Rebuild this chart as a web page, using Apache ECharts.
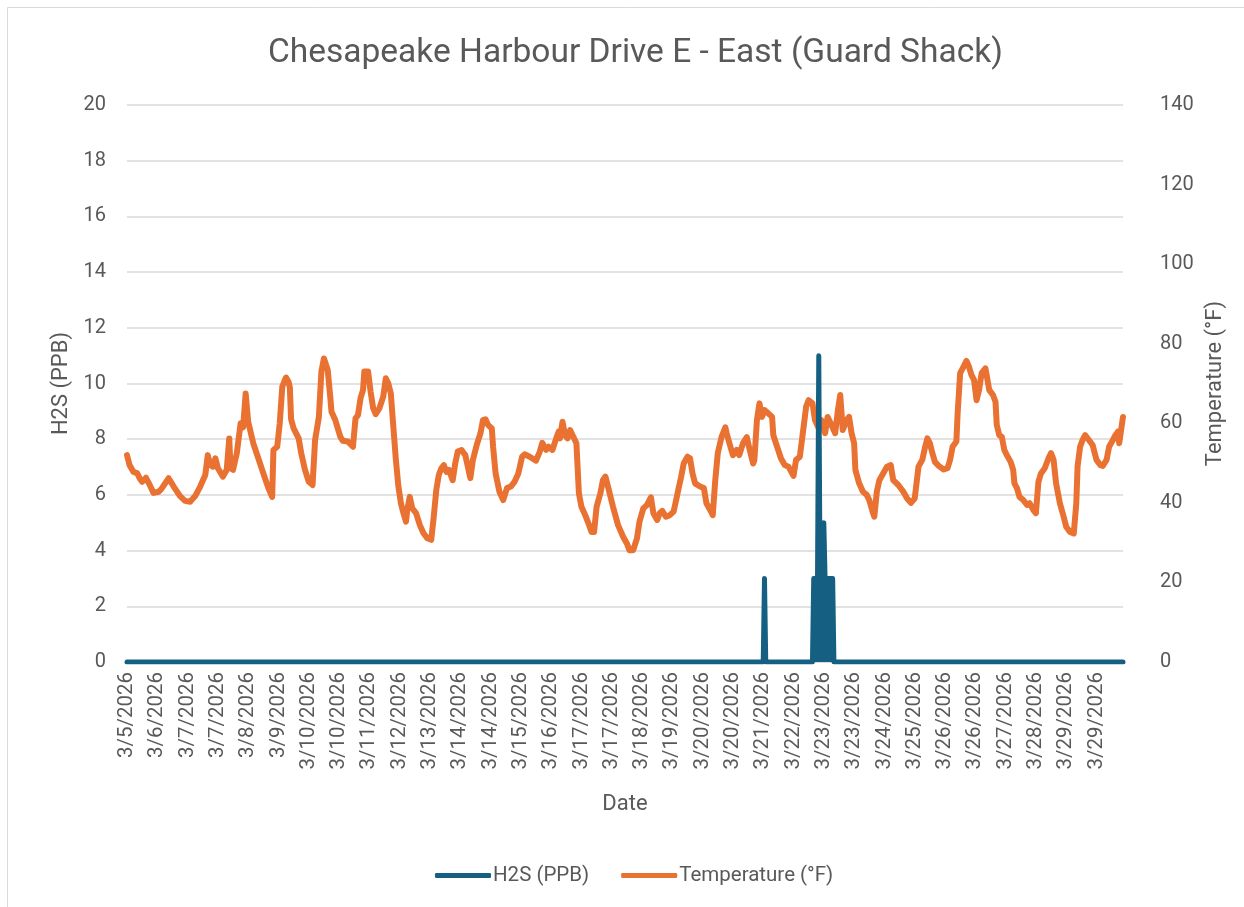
<!DOCTYPE html>
<html>
<head>
<meta charset="utf-8">
<script src="https://cdn.jsdelivr.net/npm/echarts@6/dist/echarts.min.js"></script>
<style>
html,body{margin:0;padding:0;background:#fff;}
#chart{width:1244px;height:907px;}
</style>
</head>
<body>
<div id="chart"></div>
<script>
// ---- data ----
const chartTitle = 'Chesapeake Harbour Drive E - East (Guard Shack)';
const tickLabels = ['3/5/2026','3/6/2026','3/7/2026','3/7/2026','3/8/2026','3/9/2026','3/10/2026','3/10/2026','3/11/2026','3/12/2026','3/13/2026','3/14/2026','3/14/2026','3/15/2026','3/16/2026','3/17/2026','3/17/2026','3/18/2026','3/19/2026','3/20/2026','3/20/2026','3/21/2026','3/22/2026','3/23/2026','3/23/2026','3/24/2026','3/25/2026','3/26/2026','3/26/2026','3/27/2026','3/28/2026','3/29/2026','3/29/2026'];
const stepsPerLabel = 24;
const stepCount = 790;
// [time step, H2S ppb]
const h2sPoints = [[0,0],[504,0],[505,3],[506,0],[543,0],[544,3],[547,3],[548,11],[549,3],[551,3],[552,5],[553,3],[559,3],[560,0],[789,0]];
// [time step, temperature F]
const tempPoints = [[0,52.0],[2,49.5],[5,47.8],[8,47.5],[10,46.2],[12,45.3],[15,46.3],[18,44.5],[21,42.5],[25,42.8],[27,43.4],[33,46.2],[37,44.1],[42,41.7],[46,40.5],[50,40.3],[54,41.7],[58,44.1],[62,47.0],[64,52.0],[66,49.5],[68,49.1],[70,51.2],[72,48.7],[76,46.6],[79,48.3],[81,56.2],[82,48.7],[84,48.3],[87,52.5],[90,60.0],[92,59.0],[94,67.5],[96,60.4],[100,55.0],[104,51.2],[108,47.4],[112,43.7],[115,41.5],[116,53.3],[119,54.1],[121,60.0],[123,69.2],[124,70.0],[126,71.5],[128,70.4],[129,69.0],[130,61.0],[132,58.7],[136,56.2],[138,52.5],[141,48.3],[144,45.3],[147,44.5],[149,55.8],[152,61.6],[154,73.0],[156,76.3],[159,73.4],[161,66.7],[162,62.9],[165,60.8],[169,56.6],[171,55.6],[175,55.4],[179,54.1],[181,61.2],[183,62.1],[185,66.3],[187,68.4],[188,73.0],[191,73.0],[193,67.9],[195,63.8],[197,62.3],[200,63.8],[203,66.7],[205,71.3],[207,70.0],[209,67.5],[211,59.1],[213,50.8],[215,44.1],[217,39.9],[219,37.4],[221,35.3],[222,38.2],[224,41.5],[226,38.6],[229,37.4],[232,34.4],[235,32.3],[238,31.1],[241,30.7],[243,36.5],[245,43.2],[247,47.0],[249,48.7],[251,49.5],[253,47.8],[255,48.3],[258,45.7],[260,49.9],[262,52.9],[265,53.3],[268,52.0],[270,49.1],[272,46.2],[274,50.8],[277,54.5],[280,57.5],[282,60.8],[284,61.0],[286,59.6],[289,58.7],[290,54.1],[292,47.4],[295,42.8],[298,40.7],[299,40.7],[301,43.7],[304,44.1],[307,45.3],[310,47.4],[313,51.6],[315,52.2],[319,51.6],[324,50.6],[327,52.9],[329,55.1],[332,53.3],[334,54.1],[337,53.3],[340,56.2],[342,57.9],[343,56.2],[345,60.4],[347,57.0],[349,56.2],[351,58.3],[353,57.0],[356,55.0],[358,42.4],[360,39.0],[363,36.9],[365,35.3],[368,32.7],[370,32.7],[372,39.0],[375,42.4],[377,45.7],[379,46.6],[381,44.1],[385,39.0],[389,34.4],[393,31.5],[396,29.8],[398,28.1],[401,28.1],[404,31.1],[406,35.3],[409,38.6],[412,39.5],[415,41.4],[417,37.4],[420,35.7],[422,37.4],[424,38.0],[427,36.5],[430,36.9],[433,37.8],[435,40.7],[437,43.7],[439,46.6],[441,49.9],[444,51.6],[446,51.2],[448,47.4],[450,44.9],[454,44.1],[457,43.7],[459,39.9],[462,38.2],[464,36.9],[466,45.7],[468,52.5],[471,56.6],[474,59.0],[475,57.5],[478,54.1],[480,52.0],[483,53.3],[485,52.0],[488,55.0],[491,56.5],[493,53.7],[496,49.9],[497,50.8],[499,60.8],[501,65.0],[503,61.6],[505,63.3],[508,62.5],[511,61.6],[512,57.0],[515,54.1],[518,51.2],[521,49.5],[524,49.1],[528,46.8],[530,50.8],[533,51.6],[535,56.6],[538,64.2],[540,65.8],[543,65.0],[545,60.8],[548,58.7],[550,60.8],[553,57.5],[555,61.6],[558,59.6],[561,57.5],[563,62.9],[565,67.1],[567,58.3],[570,60.8],[572,61.6],[574,57.5],[576,55.0],[577,48.3],[580,44.9],[583,42.8],[586,42.0],[588,40.7],[591,37.4],[592,36.5],[594,42.8],[596,45.7],[599,47.4],[602,49.1],[605,49.5],[607,45.7],[611,44.5],[615,42.8],[618,41.1],[621,40.0],[624,41.1],[627,49.1],[630,50.8],[632,53.7],[634,56.2],[636,55.0],[638,52.5],[640,50.3],[643,49.3],[647,48.4],[650,48.7],[652,50.8],[654,54.1],[657,55.4],[658,62.5],[660,72.6],[662,73.8],[665,75.7],[667,74.2],[669,72.1],[671,70.9],[673,65.8],[675,68.4],[677,72.6],[680,73.8],[681,72.1],[683,68.4],[686,67.1],[688,65.4],[689,59.6],[691,57.0],[693,56.6],[695,53.3],[697,52.0],[700,50.3],[702,48.3],[703,44.9],[705,43.7],[707,41.5],[710,40.7],[713,39.5],[715,39.9],[718,38.2],[720,37.4],[722,45.3],[724,47.4],[727,48.7],[730,51.2],[732,52.5],[734,50.8],[736,44.9],[739,39.9],[742,36.5],[744,34.0],[747,32.7],[750,32.3],[752,39.9],[753,49.1],[755,54.1],[757,55.8],[759,57.0],[762,55.8],[765,54.5],[768,50.8],[771,49.5],[773,49.3],[776,50.8],[778,54.1],[781,55.8],[783,57.0],[785,57.9],[786,55.0],[789,61.6]];

// ---- chart ----
const categories = Array.from({length: stepCount}, (_, i) => String(i));
const txt = '#595959';
const font = 'Roboto, "Liberation Sans", sans-serif';
const chart = echarts.init(document.getElementById('chart'), null, {renderer: 'canvas'});
chart.setOption({
  backgroundColor: '#ffffff',
  animation: false,
  textStyle: {fontFamily: font},
  graphic: [{
    type: 'rect', silent: true, z: -1,
    shape: {x: 7.5, y: 7.5, width: 1400, height: 1100},
    style: {fill: 'none', stroke: '#d9d9d9', lineWidth: 1}
  }],
  title: {
    text: chartTitle, left: 263, top: 32,
    textStyle: {fontSize: 33.5, fontWeight: 'normal', color: txt, fontFamily: font}
  },
  legend: {
    left: 430, top: 860, itemWidth: 56, itemHeight: 5, itemGap: 32,
    icon: 'roundRect',
    textStyle: {fontSize: 20.5, color: txt, fontFamily: font, padding: [0, 0, 0, -3]},
    data: ['H2S (PPB)', 'Temperature (°F)']
  },
  grid: {left: 127, right: 121, top: 105, bottom: 245},
  xAxis: {
    type: 'category', data: categories, boundaryGap: false,
    name: 'Date', nameLocation: 'middle', nameGap: 131,
    nameTextStyle: {fontSize: 22, color: txt},
    axisLine: {lineStyle: {color: '#d9d9d9', width: 1.5}},
    axisTick: {show: false},
    axisLabel: {
      interval: stepsPerLabel - 1, rotate: 90, margin: 10, fontSize: 20.5, color: txt,
      formatter: (v, i) => tickLabels[Math.round(i / stepsPerLabel)] || ''
    }
  },
  yAxis: [{
    type: 'value', min: 0, max: 20, interval: 2,
    name: 'H2S (PPB)', nameLocation: 'middle', nameGap: 54, nameRotate: 90,
    nameTextStyle: {fontSize: 22, color: txt},
    axisLine: {show: false}, axisTick: {show: false},
    axisLabel: {fontSize: 20, color: txt, margin: 21},
    splitLine: {lineStyle: {color: '#d9d9d9', width: 1.5}}
  }, {
    type: 'value', min: 0, max: 140, interval: 20, position: 'right',
    name: 'Temperature (°F)', nameLocation: 'middle', nameGap: 65, nameRotate: 90,
    nameTextStyle: {fontSize: 22, color: txt},
    axisLine: {show: false}, axisTick: {show: false},
    axisLabel: {fontSize: 20, color: txt, margin: 37},
    splitLine: {show: false}
  }],
  series: [{
    name: 'H2S (PPB)', type: 'line', yAxisIndex: 0, z: 4,
    data: h2sPoints, showSymbol: false, symbol: 'none',
    lineStyle: {color: '#156082', width: 5, cap: 'round', join: 'round'},
    itemStyle: {color: '#156082'},
    areaStyle: {color: '#156082', opacity: 1}
  }, {
    name: 'Temperature (°F)', type: 'line', yAxisIndex: 1, z: 3,
    data: tempPoints, showSymbol: false, symbol: 'none',
    lineStyle: {color: '#E97132', width: 6, cap: 'round', join: 'round'},
    itemStyle: {color: '#E97132'}
  }]
});
</script>
</body>
</html>
